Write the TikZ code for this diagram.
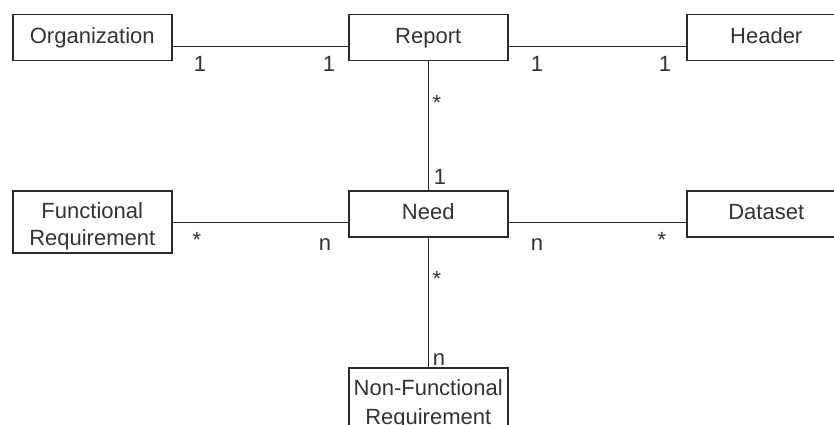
\documentclass[tikz,border=0pt]{standalone}
\usepackage{fontspec}
\setmainfont{Liberation Sans}
\definecolor{ink}{HTML}{2B2B2B}
\definecolor{txt}{HTML}{333333}
\begin{document}
\begin{tikzpicture}[x=1pt,y=-1pt,
  box/.style={draw=ink, line width=1.5pt, minimum width=159pt, minimum height=46pt,
    anchor=north west, inner sep=0pt, align=center, text=txt,
    font=\fontsize{22}{27.5}\selectfont},
  onebox/.style={box, text height=16pt, text depth=4.7pt},
  twobox/.style={box, minimum height=62pt},
  conn/.style={draw=ink, line width=1.1pt},
  mult/.style={text=txt, font=\fontsize{22}{26}\selectfont, inner sep=0pt}]
\useasboundingbox (0,0) rectangle (834,425);
\clip (0,0) rectangle (834,425);
\fill[white] (0,0) rectangle (834,425);
% boxes
\node[onebox] (org) at (12,14) {Organization};
\node[onebox] (rep) at (348,14) {Report};
\node[onebox] (hdr) at (686,14) {Header};
\node[twobox, text height=53pt, text depth=5pt] (fr) at (12,190) {Functional\\Requirement};
\node[onebox] (need) at (348,190) {Need};
\node[onebox] (ds) at (686,190) {Dataset};
\node[twobox, font=\fontsize{22}{29}\selectfont, text height=57pt, text depth=5pt] (nfr) at (348,367) {Non-Functional\\Requirement};
% connectors
\draw[conn] ([yshift=-9pt]org.east) -- ([yshift=-9pt]rep.west);
\draw[conn] ([yshift=-9pt]rep.east) -- ([yshift=-9pt]hdr.west);
\draw[conn] ([yshift=-9pt]need.west) -- ([yshift=-9pt]need.west -| fr.east);
\draw[conn] ([yshift=-9pt]need.east) -- ([yshift=-9pt]ds.west);
\draw[conn] (rep.south) -- (need.north);
\draw[conn] (need.south) -- (nfr.north);
% multiplicities
\node[mult] (m1) at (200,64) {1};
\node[mult] (m2) at (329,64) {1};
\node[mult] (m3) at (537,64) {1};
\node[mult] (m4) at (665,64) {1};
\node[mult] (m5) at (437,103) {*};
\node[mult] (m6) at (440,177) {1};
\node[mult] (m7) at (197,240) {*};
\node[mult] (m8) at (325,245) {n};
\node[mult] (m9) at (537,245) {n};
\node[mult] (m10) at (662,240) {*};
\node[mult] (m11) at (437,279) {*};
\node[mult] (m12) at (439,360) {n};
\end{tikzpicture}
\end{document}
